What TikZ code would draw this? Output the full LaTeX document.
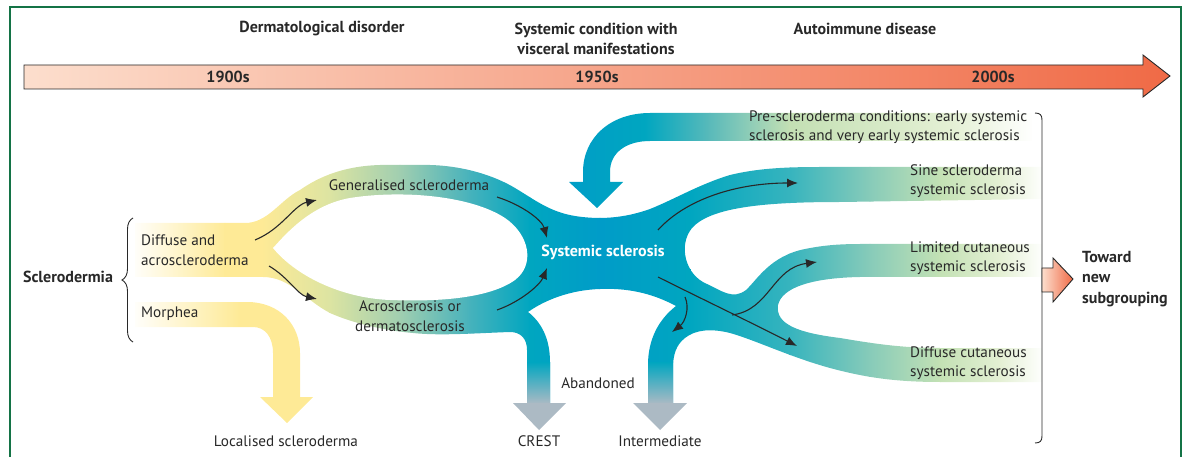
\documentclass[tikz,border=0pt]{standalone}
\usepackage{fontspec}
\setmainfont{PT Sans}
\usepackage{tikz}
\usetikzlibrary{arrows.meta, decorations.pathreplacing}

\definecolor{frameGreen}{RGB}{20, 115, 70}
\definecolor{inkgray}{RGB}{40, 40, 40}
\definecolor{timeLight}{RGB}{252, 222, 205}
\definecolor{timeDark}{RGB}{240, 106, 70}
\definecolor{bandYellow}{RGB}{254, 234, 150}
\definecolor{bandLime}{RGB}{220, 228, 162}
\definecolor{bandGreen}{RGB}{160, 206, 176}
\definecolor{bandTealA}{RGB}{70, 178, 188}
\definecolor{bandTeal}{RGB}{0, 166, 192}
\definecolor{bandBlue}{RGB}{0, 156, 200}
\definecolor{bandTealB}{RGB}{55, 180, 190}
\definecolor{bandMint}{RGB}{135, 203, 185}
\definecolor{bandPale}{RGB}{195, 225, 180}
\definecolor{bandFaint}{RGB}{228, 240, 212}
\definecolor{preMid}{RGB}{90, 186, 186}
\definecolor{prePale}{RGB}{196, 224, 180}
\definecolor{stemGray}{RGB}{172, 186, 196}

\tikzset{
  lbl/.style={font=\fontsize{15.2}{19.5}\selectfont, text=inkgray, inner sep=0pt},
  hdr/.style={lbl, font=\fontsize{16}{20.5}\selectfont\bfseries},
  flowarr/.style={-{Latex[length=11pt, width=9pt]}, line width=1.1pt, draw=inkgray},
}

\begin{document}
\begin{tikzpicture}[x=1pt, y=-1pt]
  \useasboundingbox (0,0) rectangle (1184,457);

  % Frame
  \draw[frameGreen, line width=1.2pt] (10,470) -- (10,7) -- (1181,7) -- (1181,470);

  % Timeline
  \shade[draw=inkgray, line width=0.9pt, left color=timeLight, right color=timeDark]
    (24,65) -- (1143,65) -- (1143,55) -- (1170,76) -- (1143,97) -- (1143,89) -- (24,89) -- cycle;
  \node[hdr] (eraDerm) at (322,29) {Dermatological disorder};
  \node[hdr, align=center] (eraSyst) at (596,39) {Systemic condition with\\visceral manifestations};
  \node[hdr] (eraAuto) at (865,29) {Autoimmune disease};
  \node[hdr] (yr1900) at (228,77) {1900s};
  \node[hdr] (yr1950) at (597,77) {1950s};
  \node[hdr] (yr2000) at (993,77) {2000s};

  % Systemic sclerosis network
  \begin{scope}
    \clip (135,223) -- (245,223)
      .. controls (268,223) and (280,200) .. (300,190)
      .. controls (320,176) and (345,166) .. (380,165)
      -- (430,165)
      .. controls (465,166) and (495,176) .. (515,188)
      .. controls (535,200) and (550,212) .. (575,216)
      .. controls (600,220) and (625,218) .. (650,209)
      .. controls (675,199) and (700,184) .. (730,175)
      .. controls (755,169) and (780,167) .. (820,167)
      -- (1042,167) -- (1042,199) -- (840,202)
      .. controls (760,202) and (710,208) .. (692,228)
      .. controls (678,245) and (685,275) .. (707,284)
      .. controls (722,291) and (733,300) .. (746,290)
      .. controls (757,280) and (770,256) .. (805,249)
      .. controls (820,246) and (835,244) .. (860,244)
      -- (1042,244) -- (1042,277) -- (860,277)
      .. controls (810,278) and (782,288) .. (778,305)
      .. controls (775,325) and (800,333) .. (840,338)
      .. controls (870,343) and (900,348) .. (940,348)
      -- (1042,348) -- (1042,382) -- (940,382)
      .. controls (890,382) and (860,376) .. (830,368)
      .. controls (790,357) and (755,340) .. (730,333)
      .. controls (710,328) and (695,330) .. (685,338)
      .. controls (676,345) and (673,355) .. (673,368)
      -- (673,404) -- (648,404) -- (648,365)
      .. controls (648,340) and (658,320) .. (676,306)
      .. controls (650,292) and (625,288) .. (600,289)
      .. controls (570,290) and (545,300) .. (528,312)
      .. controls (541,322) and (550,338) .. (550,362)
      -- (550,404) -- (527,404) -- (527,350)
      .. controls (527,339) and (521,332) .. (510,332)
      .. controls (480,333) and (440,336) .. (413,333)
      .. controls (380,330) and (350,322) .. (330,313)
      .. controls (305,300) and (290,277) .. (263,277)
      -- (135,277) -- cycle;
    \foreach \xa/\xb/\ca/\cb in {130/225/white/bandYellow, 225/262/bandYellow/bandYellow,
        262/330/bandYellow/bandLime, 330/400/bandLime/bandGreen, 400/470/bandGreen/bandTealA,
        470/530/bandTealA/bandTeal, 530/600/bandTeal/bandBlue, 600/690/bandBlue/bandTeal,
        690/790/bandTeal/bandTealB, 790/870/bandTealB/bandMint, 870/940/bandMint/bandPale,
        940/1000/bandPale/bandFaint, 1000/1044/bandFaint/white}
      \shade[left color=\ca, right color=\cb] (\xa-0.4,100) rectangle (\xb+0.4,410);
  \end{scope}
  % loop hole
  \fill[white] (273,248) .. controls (285,235) and (310,205) .. (350,198)
    .. controls (400,190) and (470,195) .. (505,218)
    .. controls (530,235) and (535,265) .. (515,280)
    .. controls (490,298) and (440,302) .. (390,300)
    .. controls (340,298) and (295,275) .. (273,248) -- cycle;

  % Abandoned stems
  \shade[top color=bandTeal, bottom color=stemGray] (527,362) rectangle (550,404);
  \shade[top color=bandTeal, bottom color=stemGray] (648,362) rectangle (673,404);
  \fill[stemGray] (513,403) -- (566,403) -- (539,430) -- cycle;
  \fill[stemGray] (633,403) -- (687,403) -- (660,430) -- cycle;

  % Pre-scleroderma band
  \begin{scope}
    \clip (1032,113) -- (650,113) .. controls (610,113) and (583,138) .. (583,172)
      -- (583,182) -- (569,182) -- (597,208) -- (623,182) -- (610,182) -- (610,172)
      .. controls (610,152) and (627,141) .. (650,141) -- (1032,141) -- cycle;
    \foreach \xa/\xb/\ca/\cb in {555/645/bandBlue/bandTeal, 645/710/bandTeal/preMid,
        710/790/preMid/prePale, 790/950/prePale/bandFaint, 950/1034/bandFaint/white}
      \shade[left color=\ca, right color=\cb] (\xa-0.4,100) rectangle (\xb+0.4,215);
  \end{scope}

  % Morphea band
  \begin{scope}
    \clip (135,302) -- (247,302) .. controls (280,302) and (300,325) .. (300,353)
      -- (300,397) -- (313,397) -- (287,423) -- (260,397) -- (273,397) -- (273,353)
      .. controls (273,337) and (265,327) .. (253,327) -- (135,327) -- cycle;
    \shade[left color=white, right color=bandYellow] (130,295) rectangle (240,430);
    \fill[bandYellow] (239.6,295) rectangle (320,430);
  \end{scope}

  % Labels
  \node[hdr] (sclDerm) at (68,277) {Sclerodermia};
  \node[lbl, anchor=west, align=left] (diffAcro) at (141,250) {Diffuse and\\acroscleroderma};
  \node[lbl, anchor=west] (morphea) at (141,314) {Morphea};
  \node[lbl] (genScl) at (409,185) {Generalised scleroderma};
  \node[lbl, align=center] (acroScl) at (410,316) {Acrosclerosis or\\dermatosclerosis};
  \node[hdr, text=white] (sysScl) at (603,252) {Systemic sclerosis};
  \node[lbl, anchor=west, align=left] (preScl) at (749,127)
    {Pre-scleroderma conditions: early systemic\\sclerosis and very early systemic sclerosis};
  \node[lbl, anchor=west, align=left] (sineScl) at (910,181) {Sine scleroderma\\systemic sclerosis};
  \node[lbl, anchor=west, align=left] (limScl) at (910,258) {Limited cutaneous\\systemic sclerosis};
  \node[lbl, anchor=west, align=left] (difScl) at (910,363) {Diffuse cutaneous\\systemic sclerosis};
  \node[lbl] (abandoned) at (598,383) {Abandoned};
  \node[lbl] (crest) at (539,441) {CREST};
  \node[lbl] (intermed) at (660,441) {Intermediate};
  \node[lbl] (locScl) at (286,441) {Localised scleroderma};
  \node[hdr, anchor=west, align=left] (toward) at (1082,279) {Toward\\new\\subgrouping};

  % Flow arrows
  \coordinate (genFrom) at (255,240);  \coordinate (genTo) at (317,200);
  \coordinate (acroFrom) at (269,266); \coordinate (acroTo) at (317,299);
  \coordinate (genOut) at (497,197);   \coordinate (sysInA) at (547,238);
  \coordinate (acroOut) at (497,310);  \coordinate (sysInB) at (547,268);
  \coordinate (sysOutA) at (658,230);  \coordinate (sineIn) at (798,183);
  \coordinate (sysOutB) at (658,277);  \coordinate (difIn) at (797,346);
  \coordinate (sysOutC) at (685,297);  \coordinate (interIn) at (672,332);
  \coordinate (branchOut) at (732,315); \coordinate (limIn) at (817,262);
  \draw[flowarr] (genFrom) .. controls (282,229) and (294,205) .. (genTo);
  \draw[flowarr] (acroFrom) .. controls (288,277) and (298,295) .. (acroTo);
  \draw[flowarr] (genOut) .. controls (522,205) and (542,220) .. (sysInA);
  \draw[flowarr] (acroOut) .. controls (520,302) and (540,285) .. (sysInB);
  \draw[flowarr] (sysOutA) .. controls (685,200) and (735,183) .. (sineIn);
  \draw[flowarr] (sysOutB) .. controls (700,298) and (750,322) .. (difIn);
  \draw[flowarr] (sysOutC) .. controls (690,308) and (685,322) .. (interIn);
  \draw[flowarr] (branchOut) .. controls (770,310) and (772,268) .. (limIn);

  % Braces
  \draw[inkgray, line width=0.9pt, decorate, decoration={brace, amplitude=11pt}] (133,342) -- (133,218);
  \draw[inkgray, line width=0.9pt] (1035,113) .. controls (1040,113) and (1042,115) .. (1042,120)
    -- (1042,436) .. controls (1042,441) and (1040,443) .. (1035,443);

  % Toward arrow
  \shade[draw=inkgray, line width=0.9pt, left color=timeLight, right color=timeDark]
    (1042,268) -- (1053,268) -- (1053,258) -- (1073,279) -- (1053,302) -- (1053,292) -- (1042,292) -- cycle;
\end{tikzpicture}
\end{document}
